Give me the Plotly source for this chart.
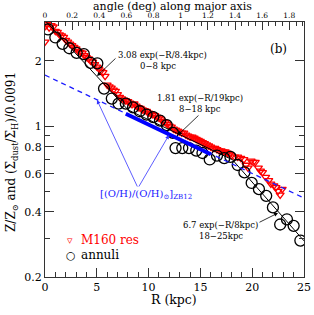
import math
import plotly.graph_objects as go

# ---------------- data ----------------
# annuli (black open circles)
R_annuli = [0.3, 1.0, 1.7, 2.35, 3.05, 3.75, 4.4, 5.05, 5.7, 6.45, 7.1, 7.8, 8.5, 9.15,
            9.8, 10.45, 11.1, 11.75, 12.35, 12.6, 13.25, 13.9, 14.6, 15.2, 15.9, 16.6,
            17.3, 17.9, 18.6, 19.25, 19.95, 20.65, 21.35, 22.0, 22.7, 23.35, 24.0, 24.65]
V_annuli = [2.80, 2.57, 2.40, 2.29, 2.18, 2.15, 1.96, 1.95, 1.49, 1.34, 1.27, 1.27, 1.22, 1.17,
            1.13, 1.10, 1.06, 1.01, 0.93, 0.79, 0.79, 0.79, 0.77, 0.75, 0.70, 0.73,
            0.71, 0.72, 0.66, 0.61, 0.545, 0.51, 0.475, 0.42, 0.35, 0.37, 0.345, 0.295]

# M160 resolution (red open down-triangles)
R_m160 = [0.0, 0.05, 0.2, 0.4, 0.6, 0.8, 1.0, 1.2, 1.4, 1.6, 1.8, 2.0, 2.2, 2.4, 2.6, 2.8,
          3.0, 3.2, 3.4, 3.6, 3.8, 4.0, 4.2, 4.4, 4.6, 4.8, 5.0, 5.2, 5.4, 5.6, 5.8, 6.0,
          6.2, 6.4, 6.6, 6.8, 7.0, 7.2, 7.4, 7.6, 7.8, 8.0, 8.2, 8.4, 8.6, 8.8, 9.0, 9.2,
          9.4, 9.6, 9.8, 10.0, 10.2, 10.4, 10.6, 10.8, 11.0, 11.2, 11.4, 11.6, 11.8, 12.0,
          12.2, 12.4, 12.6, 12.8, 13.0, 13.2, 13.4, 13.6, 13.8, 14.0, 14.2, 14.4, 14.6,
          14.8, 15.0, 15.2, 15.4, 15.6, 15.8, 16.0, 16.2, 16.4, 16.6, 16.8, 17.0, 17.2,
          17.4, 17.6, 17.8, 18.0, 18.3, 18.6, 18.9, 19.2, 19.4, 19.6, 19.9, 20.1, 20.3,
          20.6, 20.8, 21.0, 21.3, 21.6, 21.8, 22.1, 22.3, 22.5, 22.7, 22.9]
V_m160 = [2.45, 2.90, 2.95, 2.85, 2.92, 2.88, 2.75, 2.72, 2.65, 2.62, 2.58, 2.50, 2.45,
          2.40, 2.36, 2.32, 2.28, 2.22, 2.20, 2.18, 2.12, 2.08, 2.05, 2.00, 1.98, 1.93,
          1.88, 1.84, 1.80, 1.77, 1.70, 1.55, 1.52, 1.50, 1.47, 1.45, 1.40, 1.36, 1.34,
          1.32, 1.31, 1.30, 1.28, 1.26, 1.27, 1.24, 1.22, 1.21, 1.19, 1.18, 1.17, 1.15,
          1.14, 1.13, 1.12, 1.10, 1.09, 1.07, 1.05, 1.04, 1.02, 1.00, 0.99, 0.97, 0.96,
          0.95, 0.94, 0.93, 0.93, 0.91, 0.90, 0.89, 0.89, 0.88, 0.87, 0.86, 0.85, 0.84,
          0.83, 0.82, 0.81, 0.80, 0.79, 0.79, 0.78, 0.77, 0.77, 0.76, 0.76, 0.75, 0.74,
          0.73, 0.72, 0.72, 0.71, 0.70, 0.66, 0.64, 0.69, 0.68, 0.68, 0.64, 0.62, 0.61,
          0.58, 0.56, 0.54, 0.53, 0.52, 0.50, 0.48, 0.51]

# exponential fits (end points of each fitted range)
fit_inner_R = [0.0, 8.0]
fit_inner_V = [3.08, 1.19]      # 3.08 exp(-R/8.4kpc)
fit_mid_R = [8.0, 18.0]
fit_mid_V = [1.188, 0.701]      # 1.81 exp(-R/19kpc)
fit_outer_R = [18.0, 25.0]
fit_outer_V = [0.706, 0.294]    # 6.7 exp(-R/8kpc)

# ZB12 metallicity gradient
zb12_R = [0.0, 25.0]
zb12_V = [1.72, 0.464]
zb12_obs_R = [7.8, 16.0]
zb12_obs_V = [1.14, 0.74]

x_ticks = [0, 5, 10, 15, 20, 25]
y_ticks = [0.2, 0.4, 0.6, 0.8, 1, 2]
y_tick_labels = ["0.2", "0.4", "0.6", "0.8", "1", "2"]
y_minor = [0.3, 0.5, 0.7, 0.9, 3]
angle_ticks = [0, 0.2, 0.4, 0.6, 0.8, 1, 1.2, 1.4, 1.6, 1.8]
angle_labels = ["0", "0.2", "0.4", "0.6", "0.8", "1", "1.2", "1.4", "1.6", "1.8"]
KPC_PER_DEG = 13.1

# ---------------- figure ----------------
W, H = 314, 315
L, Rm, T, B = 45, 10, 22, 38
PW, PH = W - L - Rm, H - T - B
FONT = "DejaVu Serif"


def px(x, y):
    """pixel -> paper coordinates"""
    return (x - L) / PW, (H - B - y) / PH


fig = go.Figure()

fig.add_trace(go.Scatter(x=R_m160, y=V_m160, mode="markers",
                         marker=dict(symbol="triangle-down-open", size=7, color="#ff0000",
                                     line=dict(width=1.3, color="#ff0000"))))
fig.add_trace(go.Scatter(x=R_annuli, y=V_annuli, mode="markers",
                         marker=dict(symbol="circle-open", size=11, color="black",
                                     line=dict(width=1.3, color="black"))))
for rr, vv in [(fit_inner_R, fit_inner_V), (fit_mid_R, fit_mid_V), (fit_outer_R, fit_outer_V)]:
    fig.add_trace(go.Scatter(x=rr, y=vv, mode="lines", line=dict(color="black", width=1)))
fig.add_trace(go.Scatter(x=zb12_R, y=zb12_V, mode="lines",
                         line=dict(color="#1a1aff", width=1.3, dash="5px,4px")))
fig.add_trace(go.Scatter(x=zb12_obs_R, y=zb12_obs_V, mode="lines",
                         line=dict(color="#0000ff", width=4)))

tick_font = dict(family=FONT, size=11, color="black")
fig.update_layout(
    width=W, height=H,
    margin=dict(l=L, r=Rm, t=T, b=B, autoexpand=False),
    plot_bgcolor="white", paper_bgcolor="white", showlegend=False,
    font=dict(family=FONT, color="black"),
    xaxis=dict(range=[0, 25], tickvals=x_ticks, ticks="inside", ticklen=9, tickwidth=1,
               tickcolor="#333", showline=True, linecolor="#333", linewidth=1,
               showgrid=False, zeroline=False, tickfont=tick_font, automargin=False,
               minor=dict(tickvals=list(range(0, 26)), ticks="inside", ticklen=5,
                          tickcolor="#333")),
    xaxis2=dict(overlaying="x", side="top", anchor="y", automargin=False,
                range=[0, 25 / KPC_PER_DEG], tickvals=angle_ticks, ticktext=angle_labels,
                ticks="inside", ticklen=8, tickcolor="#333", showline=True,
                linecolor="#333", linewidth=1, showgrid=False, zeroline=False,
                tickfont=dict(family=FONT, size=7.5, color="black"),
                minor=dict(dtick=0.05, ticks="inside", ticklen=4, tickcolor="#333")),
    yaxis=dict(type="log", range=[math.log10(0.2), math.log10(3.03)], automargin=False,
               tickvals=y_ticks, ticktext=y_tick_labels, ticks="inside", ticklen=9,
               tickcolor="#333", showline=True, linecolor="#333", linewidth=1,
               mirror="ticks", showgrid=False, zeroline=False, tickfont=tick_font,
               minor=dict(tickvals=y_minor, ticks="inside", ticklen=5, tickcolor="#333")),
)

# top axis needs something attached: empty trace
fig.add_trace(go.Scatter(x=[], y=[], xaxis="x2", yaxis="y", showlegend=False))

ann = []


def text(x, y, s, size=9, color="black", anchor="center", angle=0):
    xp, yp = px(x, y)
    ann.append(dict(x=xp, y=yp, xref="paper", yref="paper", text=s, showarrow=False,
                    xanchor=anchor, yanchor="middle", textangle=angle,
                    font=dict(family=FONT, size=size, color=color)))


def arrow(hx, hy, tx, ty, color="black"):
    xp, yp = px(hx, hy)
    ann.append(dict(x=xp, y=yp, xref="paper", yref="paper", text="", showarrow=True,
                    ax=tx - hx, ay=ty - hy, arrowhead=2, arrowsize=1, arrowwidth=0.8,
                    arrowcolor=color))


# axis titles
text(172, 6.5, "angle (deg) along major axis", 11)
text(174, 299, "R (kpc)", 12.5)
text(12, 152, "Z/Z<sub>⊙</sub> and (Σ<sub>dust</sub>/Σ<sub>H</sub>)/0.0091", 12, angle=-90)

text(162, 55, "3.08 exp(−R/8.4kpc)", 8.5)
text(158, 66, "0−8 kpc", 8.5)
arrow(97, 76, 117, 57)
text(200, 98, "1.81 exp(−R/19kpc)", 8.5)
text(200, 109, "8−18 kpc", 8.5)
arrow(178, 135, 200, 114)
text(220, 225, "6.7 exp(−R/8kpc)", 8.5)
text(221, 236, "18−25kpc", 8.5)
arrow(278, 213, 258, 223)
text(278, 49, "(b)", 12)
text(146, 194, "[(O/H)/(O/H)<sub>⊙</sub>]<sub>ZB12</sub>", 10, color="#1a1aff")
arrow(97, 100, 138, 188, color="#3333ff")
arrow(169, 135, 138, 188, color="#3333ff")
text(70, 240, "▿", 11, color="#ff0000")
text(79, 240, "M160 res", 12, color="#ff0000", anchor="left")
text(71, 255, "○", 11)
text(79, 255, "annuli", 12, anchor="left")

fig.update_layout(annotations=ann)
fig.write_html("out.html", config={"displayModeBar": False},
               post_script="document.body.style.margin='0px';")
